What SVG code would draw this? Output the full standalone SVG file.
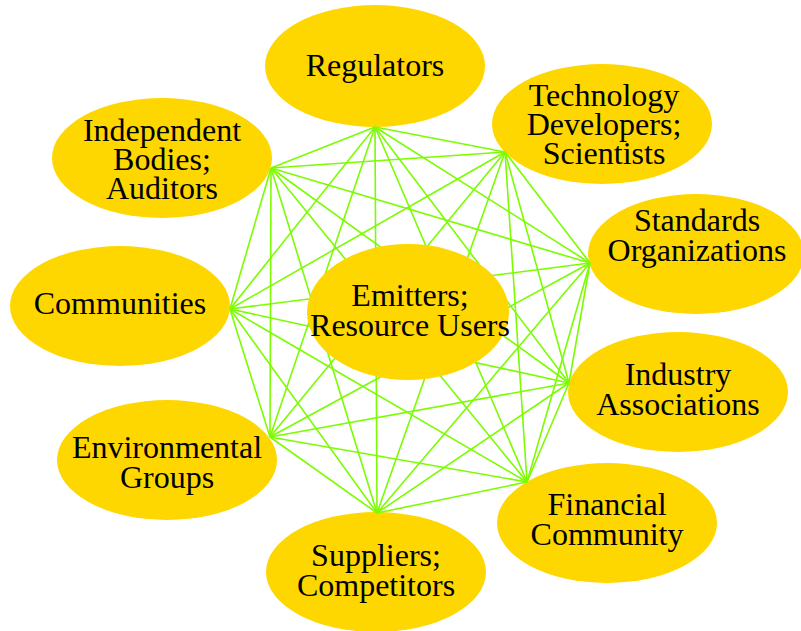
<svg xmlns="http://www.w3.org/2000/svg" width="801" height="631" viewBox="0 0 801 631">
  <style>
    .node ellipse { fill: #ffd700; stroke: none; }
    .node text { font-family: 'Liberation Serif', 'Times New Roman', Times, 'DejaVu Serif', serif; font-size: 32px; fill: #000; text-anchor: middle; }
    .edges line { stroke: #7cfc00; stroke-width: 1.6; }
  </style>
  <rect width="801" height="631" fill="#fff"/>

  <g id="n-regulators" class="node">
    <ellipse cx="375" cy="66" rx="110" ry="61"/>
    <text x="375" y="76">Regulators</text>
  </g>
  <g id="n-technology" class="node">
    <ellipse cx="602" cy="124" rx="110" ry="60"/>
    <text x="604" y="106">Technology</text>
    <text x="604" y="135">Developers;</text>
    <text x="604" y="164">Scientists</text>
  </g>
  <g id="n-independent" class="node">
    <ellipse cx="162" cy="158" rx="110" ry="60"/>
    <text x="162" y="141">Independent</text>
    <text x="162" y="170">Bodies;</text>
    <text x="162" y="199">Auditors</text>
  </g>
  <g id="n-standards" class="node">
    <ellipse cx="696" cy="254" rx="108" ry="60"/>
    <text x="697" y="231">Standards</text>
    <text x="697" y="261">Organizations</text>
  </g>
  <g id="n-communities" class="node">
    <ellipse cx="120" cy="306" rx="110" ry="60"/>
    <text x="120" y="314">Communities</text>
  </g>
  <g id="n-industry" class="node">
    <ellipse cx="678" cy="392" rx="110" ry="60"/>
    <text x="678" y="385">Industry</text>
    <text x="678" y="415">Associations</text>
  </g>
  <g id="n-environmental" class="node">
    <ellipse cx="167" cy="460" rx="110" ry="60"/>
    <text x="167" y="458">Environmental</text>
    <text x="167" y="488">Groups</text>
  </g>
  <g id="n-financial" class="node">
    <ellipse cx="607" cy="523" rx="110" ry="60"/>
    <text x="607" y="515">Financial</text>
    <text x="607" y="545">Community</text>
  </g>
  <g id="n-suppliers" class="node">
    <ellipse cx="376" cy="572" rx="110" ry="60"/>
    <text x="376" y="566">Suppliers;</text>
    <text x="376" y="596">Competitors</text>
  </g>

  <!-- every outer stakeholder linked to every other -->
  <g id="connectors" class="edges">
    <line x1="375" y1="127" x2="505" y2="152"/>
    <line x1="375" y1="127" x2="271" y2="168"/>
    <line x1="375" y1="127" x2="590" y2="263"/>
    <line x1="375" y1="127" x2="230" y2="309"/>
    <line x1="375" y1="127" x2="569" y2="383"/>
    <line x1="375" y1="127" x2="270" y2="437"/>
    <line x1="375" y1="127" x2="527" y2="482"/>
    <line x1="375" y1="127" x2="377" y2="513"/>
    <line x1="505" y1="152" x2="271" y2="168"/>
    <line x1="505" y1="152" x2="590" y2="263"/>
    <line x1="505" y1="152" x2="230" y2="309"/>
    <line x1="505" y1="152" x2="569" y2="383"/>
    <line x1="505" y1="152" x2="270" y2="437"/>
    <line x1="505" y1="152" x2="527" y2="482"/>
    <line x1="505" y1="152" x2="377" y2="513"/>
    <line x1="271" y1="168" x2="590" y2="263"/>
    <line x1="271" y1="168" x2="230" y2="309"/>
    <line x1="271" y1="168" x2="569" y2="383"/>
    <line x1="271" y1="168" x2="270" y2="437"/>
    <line x1="271" y1="168" x2="527" y2="482"/>
    <line x1="271" y1="168" x2="377" y2="513"/>
    <line x1="590" y1="263" x2="230" y2="309"/>
    <line x1="590" y1="263" x2="569" y2="383"/>
    <line x1="590" y1="263" x2="270" y2="437"/>
    <line x1="590" y1="263" x2="527" y2="482"/>
    <line x1="590" y1="263" x2="377" y2="513"/>
    <line x1="230" y1="309" x2="569" y2="383"/>
    <line x1="230" y1="309" x2="270" y2="437"/>
    <line x1="230" y1="309" x2="527" y2="482"/>
    <line x1="230" y1="309" x2="377" y2="513"/>
    <line x1="569" y1="383" x2="270" y2="437"/>
    <line x1="569" y1="383" x2="527" y2="482"/>
    <line x1="569" y1="383" x2="377" y2="513"/>
    <line x1="270" y1="437" x2="527" y2="482"/>
    <line x1="270" y1="437" x2="377" y2="513"/>
    <line x1="527" y1="482" x2="377" y2="513"/>
  </g>

  <g id="n-emitters" class="node">
    <ellipse cx="408" cy="312" rx="101" ry="68"/>
    <text x="410" y="306">Emitters;</text>
    <text x="410" y="336">Resource Users</text>
  </g>
</svg>
